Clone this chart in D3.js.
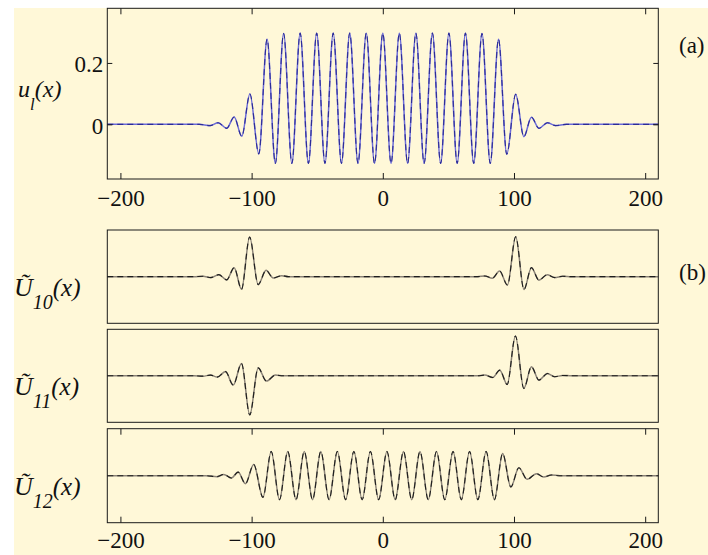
<!DOCTYPE html>
<html>
<head>
<meta charset="utf-8">
<script src="https://cdn.jsdelivr.net/npm/d3@7/dist/d3.min.js"></script>
<style>
  html, body { margin: 0; padding: 0; background: #ffffff; }
  svg { display: block; }
  text { font-family: "Liberation Serif", "Times New Roman", serif; fill: #111; }
</style>
</head>
<body>
<svg id="fig" width="708" height="555"></svg>
<script>
// ---- data ----------------------------------------------------------------
const xTicks = [-200, -100, 0, 100, 200];
const uTicks = [0, 0.2];

// (a) u_l(x): extrema of the wave packet
const xA = [-210, -140, -131.5, -125.5, -119, -113.3, -107.5, -101.3, -94.5,
  -88.2, -81.9, -75.6, -69.3, -63, -56.7, -50.4, -44.1, -37.8, -31.5, -25.2, -18.9, -12.6, -6.3,
  0, 6.3, 12.6, 18.9, 25.2, 31.5, 37.8, 44.1, 50.4, 56.7, 63, 69.3, 75.6, 81.9, 88.2,
  94.5, 101.3, 107.5, 113.3, 119, 125.5, 131.5, 140, 210];
const uA = [0, 0, -0.004, 0.005, -0.013, 0.024, -0.039, 0.099, -0.096,
  0.277, -0.127, 0.296, -0.127, 0.297, -0.127, 0.297, -0.127, 0.297, -0.127, 0.297, -0.127, 0.297, -0.127,
  0.297, -0.127, 0.297, -0.127, 0.297, -0.127, 0.297, -0.127, 0.297, -0.127, 0.297, -0.127, 0.296, -0.127, 0.277,
  -0.097, 0.098, -0.040, 0.023, -0.013, 0.005, -0.004, 0, 0];

// (b) U10(x)
const xU10 = [-210, -144, -137, -131, -125, -119, -113.3, -107.7, -101.5, -95, -89, -83.5, -77, -72,
  72, 77.8, 83.5, 89, 95, 101.3, 107.6, 113.3, 119, 125.3, 131, 137, 144, 210];
const yU10 = [0, 0, 0.008, -0.02, 0.043, -0.07, 0.193, -0.272, 0.849, -0.171, 0.135, -0.03, 0.021, 0,
  0, 0.015, -0.033, 0.122, -0.18, 0.855, -0.275, 0.193, -0.075, 0.04, -0.02, 0.008, 0, 0];

// (b) U11(x)
const xU11 = [-210, -144, -137, -131.3, -126.2, -119.9, -114, -107.7, -101.4, -95, -88.7, -81.9, -76,
  72, 77.8, 83.7, 89.2, 94.8, 101.1, 107.5, 113.3, 119, 125.5, 131, 137, 144, 210];
const yU11 = [0, 0, -0.008, 0.015, -0.028, 0.09, -0.2, 0.266, -0.842, 0.17, -0.114, 0.015, 0,
  0, 0.015, -0.036, 0.122, -0.186, 0.857, -0.272, 0.193, -0.092, 0.049, -0.021, 0.008, 0, 0];

// (b) U12(x)
const xU12 = [-210, -135, -126.3, -121.2, -115.4, -110.3, -104.7, -98.4,
  -91.35, -85.05, -78.75, -72.45, -66.15, -59.85, -53.55, -47.25, -40.95, -34.65, -28.35, -22.05,
  -15.75, -9.45, -3.15, 3.15, 9.45, 15.75, 22.05, 28.35, 34.65, 40.95, 47.25, 53.55, 59.85, 66.15,
  72.45, 78.75, 85.05, 91.35,
  97.6, 103.7, 110, 117.1, 122.7, 128.5, 135, 210];
const yU12 = [0, 0, -0.02, 0.028, -0.05, 0.077, -0.17, 0.24,
  -0.46, 0.515, -0.51, 0.515, -0.51, 0.515, -0.51, 0.515, -0.51, 0.515, -0.51, 0.515,
  -0.51, 0.515, -0.51, 0.515, -0.51, 0.515, -0.51, 0.515, -0.51, 0.515, -0.51, 0.515, -0.51, 0.515,
  -0.51, 0.515, -0.51, 0.47,
  -0.24, 0.17, -0.078, 0.043, -0.028, 0.015, 0, 0];

// ---- layout ----------------------------------------------------------------
const W = 708, H = 555;
const L = 107.3, R = 658.3;
const panelA = { top: 8.3, bottom: 179 };
const panelsB = [
  { top: 230, bottom: 323.3, xs: xU10, ys: yU10, sub: "10", ticks: false },
  { top: 329.3, bottom: 422.3, xs: xU11, ys: yU11, sub: "11", ticks: false },
  { top: 428.7, bottom: 522.7, xs: xU12, ys: yU12, sub: "12", ticks: true }
];

const svg = d3.select("#fig");

// page background
svg.append("rect").attr("x", 0).attr("y", 0).attr("width", W).attr("height", H).attr("fill", "#ffffff");
svg.append("rect").attr("x", 14).attr("y", 8).attr("width", W - 14).attr("height", H - 8).attr("fill", "#fff8d8");

const x = d3.scaleLinear().domain([-210, 210]).range([L, R]);
const fmtX = d3.format("");

function frame(top, bottom) {
  svg.append("rect")
    .attr("x", L).attr("y", top)
    .attr("width", R - L).attr("height", bottom - top)
    .attr("fill", "none").attr("stroke", "#1a1a1a").attr("stroke-width", 1);
}

function styleAxis(g) {
  g.select(".domain").remove();
  g.selectAll(".tick line").attr("stroke", "#1a1a1a").attr("stroke-width", 1);
  g.selectAll(".tick text")
    .attr("font-family", "Liberation Serif, Times New Roman, serif")
    .attr("font-size", 23).attr("fill", "#111");
}

function drawCurve(xs, ys, yScale, base, dash) {
  const pts = xs.map((v, i) => [v, ys[i]]);
  const line = d3.line().x(d => x(d[0])).y(d => yScale(d[1])).curve(d3.curveMonotoneX);
  svg.append("path").datum(pts).attr("d", line)
    .attr("fill", "none").attr("stroke", base).attr("stroke-width", 1.5);
  svg.append("path").datum(pts).attr("d", line)
    .attr("fill", "none").attr("stroke", dash).attr("stroke-width", 1.1)
    .attr("stroke-dasharray", "6,4");
}

// ---- panel (a) -------------------------------------------------------------
const yA = d3.scaleLinear().domain([-0.178, 0.378]).range([panelA.bottom, panelA.top]);

drawCurve(xA, uA, yA, "#6a6ad8", "#2c2c96");
frame(panelA.top, panelA.bottom);

svg.append("g").attr("transform", `translate(0,${panelA.bottom})`)
  .call(d3.axisBottom(x).tickValues(xTicks).tickSize(-6).tickPadding(11).tickFormat(fmtX))
  .call(styleAxis);
svg.append("g").attr("transform", `translate(0,${panelA.top})`)
  .call(d3.axisTop(x).tickValues(xTicks).tickSize(-6).tickFormat(""))
  .call(styleAxis);
svg.append("g").attr("transform", `translate(${L},0)`)
  .call(d3.axisLeft(yA).tickValues(uTicks).tickSize(-5).tickPadding(4)
    .tickFormat(d => d === 0 ? "0" : d3.format(".1f")(d)))
  .call(styleAxis)
  .call(g => g.selectAll(".tick text").attr("dy", "0.38em"));
svg.append("g").attr("transform", `translate(${R},0)`)
  .call(d3.axisRight(yA).tickValues(uTicks).tickSize(-5).tickFormat(""))
  .call(styleAxis);

// y label u_l(x)
const lblA = svg.append("text").attr("x", 18).attr("y", 97)
  .attr("font-style", "italic").attr("font-size", 24);
lblA.append("tspan").text("u");
lblA.append("tspan").attr("font-size", 17).attr("dy", 13).text("l");
lblA.append("tspan").attr("dy", -13).text("(x)");

svg.append("text").attr("x", 679).attr("y", 53).attr("font-size", 23).text("(a)");

// ---- panels (b) ------------------------------------------------------------
panelsB.forEach(p => {
  const yB = d3.scaleLinear().domain([-1, 1]).range([p.bottom, p.top]);
  drawCurve(p.xs, p.ys, yB, "#8a8276", "#1e1e1e");
  frame(p.top, p.bottom);
  if (p.ticks) {
    svg.append("g").attr("transform", `translate(0,${p.bottom})`)
      .call(d3.axisBottom(x).tickValues(xTicks).tickSize(-6).tickPadding(9).tickFormat(fmtX))
      .call(styleAxis);
    svg.append("g").attr("transform", `translate(0,${p.top})`)
      .call(d3.axisTop(x).tickValues(xTicks).tickSize(-6).tickFormat(""))
      .call(styleAxis);
  }
  const zeroY = yB(0);
  const t = svg.append("text").attr("x", 14).attr("y", zeroY + 19)
    .attr("font-style", "italic").attr("font-size", 26);
  t.append("tspan").text("\u0168");
  t.append("tspan").attr("font-size", 20).attr("dy", 13).text(p.sub);
  t.append("tspan").attr("font-size", 25).attr("dy", -13).text("(x)");
});

svg.append("text").attr("x", 679).attr("y", 280).attr("font-size", 23).text("(b)");
</script>
</body>
</html>
